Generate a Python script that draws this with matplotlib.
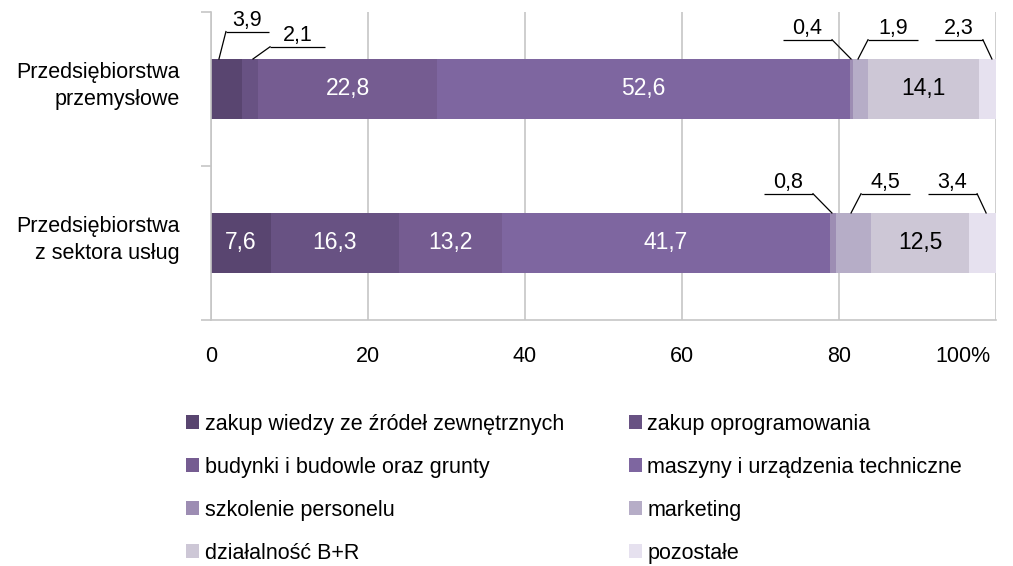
import matplotlib
matplotlib.use("Agg")
import matplotlib.pyplot as plt
from matplotlib.patches import Patch
from matplotlib.transforms import ScaledTranslation

plt.rcParams['font.family'] = ['Liberation Sans', 'DejaVu Sans']

# Structure of innovation expenditure (%)
categories = ["Przedsiębiorstwa\nprzemysłowe", "Przedsiębiorstwa\nz sektora usług"]
series_names = [
    "zakup wiedzy ze źródeł zewnętrznych",
    "zakup oprogramowania",
    "budynki i budowle oraz grunty",
    "maszyny i urządzenia techniczne",
    "szkolenie personelu",
    "marketing",
    "działalność B+R",
    "pozostałe",
]
industry = [3.9, 2.1, 22.8, 52.6, 0.4, 1.9, 14.1, 2.3]
services = [7.6, 16.3, 13.2, 41.7, 0.8, 4.5, 12.5, 3.4]
x_ticks = [0, 20, 40, 60, 80, 100]
x_tick_labels = ["0", "20", "40", "60", "80", "100%"]

colors = ["#594570", "#685283", "#755c91", "#7e66a0",
          "#9d8db3", "#b6adc7", "#cdc7d6", "#e6e1ef"]
inner_text_colors = ["white", "white", "white", "white", None, None, "black", None]

# callout layout for narrow segments: (row, series index, anchor fraction,
# underline start/end offset from anchor, underline height above bar, leader side)
callouts = [
    (0, 0, 0.26, 0.89, 6.37, 0.178, "left"),
    (0, 1, 0.69, 2.17, 9.17, 0.079, "left"),
    (0, 4, 0.33, -8.66, -2.42, 0.125, "right"),
    (0, 5, 0.33, 1.27, 7.64, 0.125, "left"),
    (0, 7, 0.73, -7.26, -1.15, 0.125, "right"),
    (1, 4, 0.37, -8.65, -2.41, 0.125, "right"),
    (1, 5, 0.43, 1.27, 7.51, 0.125, "left"),
    (1, 7, 0.63, -7.39, -1.15, 0.125, "right"),
]

FS = 15.5
FS_VAL = 16.5
LINE = "#c6c6c6"

fig = plt.figure(figsize=(10.13, 5.66), dpi=100)
ax = fig.add_axes([211 / 1013, 1 - 320 / 566, 785 / 1013, 308 / 566])

rows = [industry, services]
ypos = [1, 0]
bar_h = 0.39

for r, (vals, y) in enumerate(zip(rows, ypos)):
    left = 0.0
    for i, v in enumerate(vals):
        ax.barh(y, v, left=left, height=bar_h, color=colors[i], linewidth=0,
                zorder=2)
        if v >= 5 and inner_text_colors[i]:
            ax.text(left + v / 2, y, f"{v:.1f}".replace(".", ","),
                    ha="center", va="center", fontsize=FS_VAL,
                    color=inner_text_colors[i], zorder=3)
        left += v

# callouts with underline and leader line
for r, i, frac, dx0, dx1, dy, side in callouts:
    vals = rows[r]
    y_top = ypos[r] + bar_h / 2
    start = sum(vals[:i])
    xa = start + frac * vals[i]
    x0, x1 = xa + dx0, xa + dx1
    yu = y_top + dy
    ax.plot([x0, x1], [yu, yu], color="black", lw=0.9, zorder=3,
            solid_capstyle="butt")
    xl = x0 if side == "left" else x1
    ax.plot([xl, xa], [yu, y_top], color="black", lw=0.9, zorder=3)
    ax.annotate(f"{vals[i]:.1f}".replace(".", ","), xy=((x0 + x1) / 2, yu),
                xytext=(0, 0.5), textcoords="offset points",
                ha="center", va="bottom", fontsize=FS, zorder=3)

ax.set_xlim(0, 100)
ax.set_ylim(-0.5, 1.5)

ax.set_xticks(x_ticks)
ax.set_xticklabels(x_tick_labels, fontsize=FS)
ax.tick_params(axis="x", length=0, pad=19)
# keep the last label inside the figure
last = ax.get_xticklabels()[-1]
last.set_horizontalalignment("right")
last.set_transform(last.get_transform() + ScaledTranslation(-6 / 100, 0, fig.dpi_scale_trans))
ax.xaxis.grid(True, color=LINE, lw=1.2, zorder=0)
ax.set_axisbelow(True)

# category labels, right aligned left of the axis
ax.set_yticks(ypos)
ax.set_yticklabels([])
for lab, y in zip(categories, ypos):
    ax.annotate(lab, xy=(0, y), xycoords=("axes fraction", "data"),
                xytext=(-31, 3), textcoords="offset pixels",
                ha="right", va="center", multialignment="right",
                fontsize=FS, linespacing=1.4)
ax.set_yticks([-0.5, 0.5, 1.5], minor=True)
ax.tick_params(axis="y", which="major", length=0)
ax.tick_params(axis="y", which="minor", length=7, color=LINE, width=1.2)

for s in ["top", "right"]:
    ax.spines[s].set_visible(False)
for s in ["left", "bottom"]:
    ax.spines[s].set_color(LINE)
    ax.spines[s].set_linewidth(1.2)

# legend, filled row by row
handles = [Patch(facecolor=c, edgecolor="none") for c in colors]
order = [0, 2, 4, 6, 1, 3, 5, 7]
fig.legend([handles[k] for k in order], [series_names[k] for k in order],
           ncol=2, loc="upper left", bbox_to_anchor=(186 / 1013, 1 - 414 / 566),
           frameon=False, fontsize=FS, handlelength=0.62, handleheight=0.62,
           handletextpad=0.25, columnspacing=3.0, labelspacing=1.02,
           borderpad=0, borderaxespad=0)

fig.savefig("out.png", dpi=100)
